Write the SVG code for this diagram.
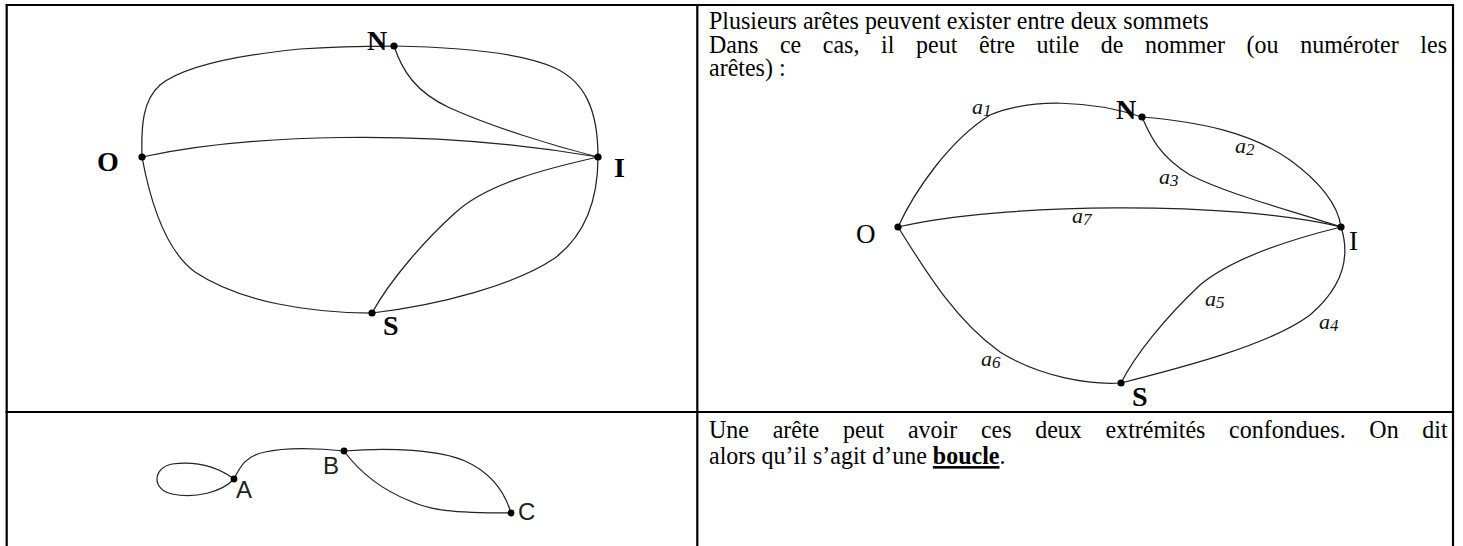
<svg xmlns="http://www.w3.org/2000/svg" width="1463" height="546" viewBox="0 0 1463 546">
<style>
.frame{stroke:#000;stroke-width:2.2;fill:none}
.edge{stroke:#222;stroke-width:1.25;fill:none}
.dot{fill:#000}
.txt{font-family:"Liberation Serif","Times New Roman",serif;font-size:25.5px;fill:#000}
.lbl{font-family:"Liberation Serif","Times New Roman",serif;font-size:28px;font-weight:bold;fill:#000}
.lbl2{font-family:"Liberation Serif","Times New Roman",serif;font-size:27px;fill:#000}
.elbl{font-family:"Liberation Serif","Times New Roman",serif;font-size:22px;font-style:italic;fill:#111}
.sub{font-size:17px}
.sans{font-family:"Liberation Sans",Arial,sans-serif;font-size:24px;fill:#222}
</style>
<rect width="1463" height="546" fill="#fff"/>
<g id="table">
<line class="frame" x1="6.7" y1="5" x2="6.7" y2="546"/>
<line class="frame" x1="5.6" y1="5" x2="1454.1" y2="5"/>
<line class="frame" x1="1453" y1="5" x2="1453" y2="546"/>
<line class="frame" x1="697.3" y1="5" x2="697.3" y2="546"/>
<line class="frame" x1="5.6" y1="412" x2="1454.1" y2="412"/>
</g>
<g id="texts">
<text class="txt" transform="translate(709,29) scale(0.941,1)">Plusieurs arêtes peuvent exister entre deux sommets</text>
<text class="txt" transform="translate(709,53) scale(0.941,1)" word-spacing="16.6">Dans ce cas, il peut être utile de nommer (ou numéroter les</text>
<text class="txt" transform="translate(709,76) scale(0.941,1)">arêtes) :</text>
<text class="txt" transform="translate(709,438) scale(0.941,1)" word-spacing="18.8">Une arête peut avoir ces deux extrémités confondues. On dit</text>
<text class="txt" transform="translate(709,464) scale(0.941,1)">alors qu’il s’agit d’une <tspan font-weight="bold" text-decoration="underline">boucle</tspan>.</text>
</g>
<g id="connectors">
<path id="e-ON" class="edge" d="M142,157 C141,125 143,100 160,85 C185,65 240,55 300,49 C340,46 370,46 394,46"/>
<path id="e-NI1" class="edge" d="M394,46 C450,47 520,52 555,68 C585,82 598,110 598,157"/>
<path id="e-NI2" class="edge" d="M394,46 C402,70 415,92 450,108 C490,126 550,145 598,157"/>
<path id="e-OI" class="edge" d="M142,157 C240,136 420,126 598,157"/>
<path id="e-IS1" class="edge" d="M598,157 C540,170 485,185 455,213 C425,240 390,280 372,313"/>
<path id="e-IS2" class="edge" d="M598,157 C598,200 585,235 555,258 C515,285 440,305 372,313"/>
<path id="e-OS" class="edge" d="M142,157 C150,200 165,250 195,272 C240,302 310,313 372,313"/>
<path id="r-a1" class="edge" d="M898,227 C915,190 950,140 990,115 C1030,98 1090,100 1142,117"/>
<path id="r-a2" class="edge" d="M1142,117 C1200,122 1250,132 1290,160 C1320,182 1338,205 1341,227"/>
<path id="r-a3" class="edge" d="M1142,117 C1150,135 1158,155 1190,175 C1230,195 1290,210 1341,227"/>
<path id="r-a7" class="edge" d="M898,227 C1000,203 1230,200 1341,227"/>
<path id="r-a5" class="edge" d="M1341,227 C1280,242 1230,260 1200,285 C1165,318 1135,355 1121,383"/>
<path id="r-a4" class="edge" d="M1341,227 C1350,255 1345,285 1310,315 C1270,345 1180,368 1121,383"/>
<path id="r-a6" class="edge" d="M898,227 C925,270 955,320 1000,352 C1040,377 1090,385 1121,383"/>
<path id="b-loop" class="edge" d="M234,479 C215,465 195,461 172,464 C152,468 152,490 172,494 C195,499 222,492 234,479"/>
<path id="b-AB" class="edge" d="M234,479 C240,467 245,456 265,452 C285,447 320,448 344,451"/>
<path id="b-BC1" class="edge" d="M344,451 C390,447 440,450 465,461 C492,473 505,493 511,513"/>
<path id="b-BC2" class="edge" d="M344,451 C358,470 380,489 410,501 C430,510 450,513 511,513"/>
</g>
<g id="edge-labels">
<text class="elbl" x="972" y="114">a<tspan class="sub" dy="2">1</tspan></text>
<text class="elbl" x="1235" y="153">a<tspan class="sub" dy="2">2</tspan></text>
<text class="elbl" x="1159" y="184">a<tspan class="sub" dy="2">3</tspan></text>
<text class="elbl" x="1072" y="223">a<tspan class="sub" dy="2">7</tspan></text>
<text class="elbl" x="1205" y="306">a<tspan class="sub" dy="2">5</tspan></text>
<text class="elbl" x="1319" y="329">a<tspan class="sub" dy="2">4</tspan></text>
<text class="elbl" x="981" y="366">a<tspan class="sub" dy="2">6</tspan></text>
</g>
<g id="n1-N"><circle class="dot" cx="394" cy="46" r="3.6"/><text class="lbl" x="367" y="50">N</text></g>
<g id="n1-O"><circle class="dot" cx="142" cy="157" r="3.6"/><text class="lbl" x="97" y="171">O</text></g>
<g id="n1-I"><circle class="dot" cx="598" cy="157" r="3.6"/><text class="lbl" x="614" y="177">I</text></g>
<g id="n1-S"><circle class="dot" cx="372" cy="313" r="3.6"/><text class="lbl" x="383" y="335">S</text></g>
<g id="n2-N"><circle class="dot" cx="1142" cy="117" r="3.6"/><text class="lbl" x="1116" y="119">N</text></g>
<g id="n2-O"><circle class="dot" cx="898" cy="227" r="3.6"/><text class="lbl2" x="856" y="243">O</text></g>
<g id="n2-I"><circle class="dot" cx="1341" cy="227" r="3.6"/><text class="lbl2" x="1349" y="250">I</text></g>
<g id="n2-S"><circle class="dot" cx="1121" cy="383" r="3.6"/><text class="lbl" x="1132" y="406">S</text></g>
<g id="n3-A"><circle class="dot" cx="234" cy="479" r="3.4"/><text class="sans" x="236" y="498">A</text></g>
<g id="n3-B"><circle class="dot" cx="344" cy="451" r="3.4"/><text class="sans" x="323" y="474">B</text></g>
<g id="n3-C"><circle class="dot" cx="511" cy="513" r="3.4"/><text class="sans" x="518" y="520">C</text></g>
</svg>
